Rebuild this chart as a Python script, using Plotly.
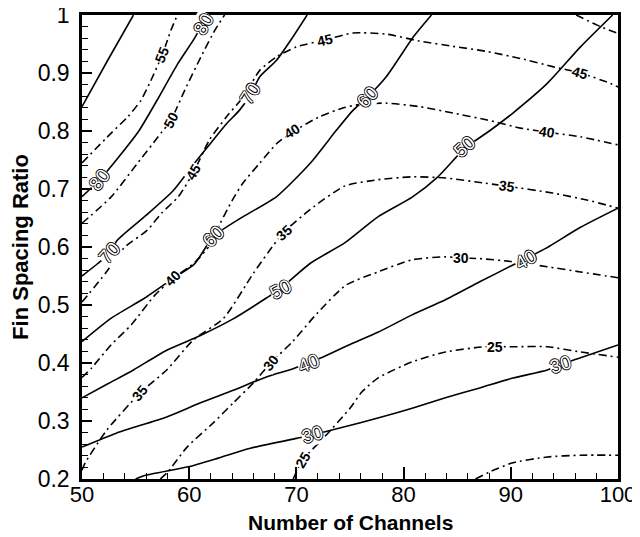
import plotly.graph_objects as go

# ---------------- data ----------------
# solid contour lines
S90_X = [50, 52.4, 54.8]
S90_Y = [0.842, 0.922, 1.0]
S80_X = [50, 51.65, 53.2, 55.3, 57.0, 58.9, 60.4, 61.3, 61.9]
S80_Y = [0.687, 0.716, 0.75, 0.8, 0.853, 0.915, 0.957, 0.986, 1.0]
S70_X = [50, 51.5, 52.6, 53.3, 56.0, 58.5, 60.3, 62.0, 63.5, 64.7, 65.7, 66.6, 68.15, 69.7, 71.0]
S70_Y = [0.55, 0.572, 0.59, 0.612, 0.655, 0.697, 0.74, 0.779, 0.813, 0.836, 0.862, 0.894, 0.922, 0.963, 1.0]
S60_X = [50, 52.7, 55.85, 58.5, 60.5, 62.25, 65.0, 68.16, 71.27, 73.76, 75.3, 76.6, 78.4, 80.9, 82.6]
S60_Y = [0.437, 0.477, 0.512, 0.546, 0.571, 0.618, 0.652, 0.687, 0.744, 0.802, 0.836, 0.858, 0.894, 0.962, 1.0]
S50_X = [50, 52.5, 54.8, 57.9, 61.0, 64.1, 67.2, 68.5, 71.3, 74.5, 77.6, 80.8, 83.2, 85.7, 88.0, 90.2, 93.4, 96.5, 99.5]
S50_Y = [0.34, 0.365, 0.388, 0.422, 0.447, 0.476, 0.512, 0.528, 0.572, 0.607, 0.652, 0.686, 0.721, 0.77, 0.8, 0.831, 0.882, 0.945, 1.0]
S40_X = [50, 53.2, 57.9, 61.0, 64.1, 67.2, 69.7, 71.1, 72.2, 75.0, 77.6, 80.8, 83.9, 87.1, 90.2, 91.5, 93.3, 96.5, 100]
S40_Y = [0.255, 0.279, 0.307, 0.331, 0.353, 0.376, 0.39, 0.4, 0.408, 0.432, 0.453, 0.483, 0.509, 0.54, 0.569, 0.581, 0.598, 0.634, 0.667]
S30_X = [55.0, 55.85, 59.9, 62.7, 65.7, 70.0, 71.5, 74.5, 77.6, 80.8, 83.9, 87.1, 90.2, 93.4, 94.6, 96.5, 100]
S30_Y = [0.2, 0.206, 0.221, 0.236, 0.253, 0.27, 0.276, 0.29, 0.305, 0.322, 0.34, 0.357, 0.374, 0.388, 0.397, 0.409, 0.431]

# dash-dot contour lines
D55_X = [50, 52.7, 54.3, 55.5, 56.3, 57.5, 58.3, 58.9]
D55_Y = [0.745, 0.796, 0.825, 0.853, 0.882, 0.932, 0.974, 1.0]
D50_X = [50, 52.7, 55.2, 57.1, 58.3, 59.6, 61.1, 62.4, 63.3]
D50_Y = [0.641, 0.686, 0.745, 0.79, 0.819, 0.871, 0.928, 0.974, 1.0]
D50B_X = [96.1, 98.0, 100]
D50B_Y = [1.0, 0.983, 0.968]
D45_X = [50, 52.2, 54.0, 56.1, 57.4, 59.0, 60.35, 61.9, 63.5, 65.05, 66.6, 68.16, 70.0, 72.67, 75.3, 78.4, 81.5, 84.6, 87.8, 90.9, 93.9, 96.5, 99.3, 100]
D45_Y = [0.505, 0.555, 0.6, 0.629, 0.658, 0.687, 0.727, 0.785, 0.825, 0.859, 0.905, 0.928, 0.945, 0.957, 0.969, 0.967, 0.955, 0.946, 0.937, 0.925, 0.911, 0.9, 0.882, 0.876]
D40_X = [50, 50.87, 52.7, 54.6, 56.8, 58.5, 60.5, 62.0, 62.9, 64.0, 65.0, 66.6, 68.2, 69.6, 72.2, 74.4, 76.0, 78.4, 81.5, 84.6, 87.8, 90.9, 93.4, 96.5, 100]
D40_Y = [0.375, 0.391, 0.431, 0.466, 0.517, 0.546, 0.573, 0.605, 0.641, 0.68, 0.71, 0.745, 0.779, 0.798, 0.825, 0.84, 0.846, 0.848, 0.842, 0.831, 0.819, 0.805, 0.798, 0.79, 0.776]
D35_X = [50, 50.3, 52.3, 55.4, 57.9, 60.4, 63.2, 66.0, 67.85, 68.8, 71.3, 74.5, 77.6, 80.8, 83.9, 87.6, 89.6, 93.9, 97.1, 100]
D35_Y = [0.215, 0.228, 0.284, 0.348, 0.388, 0.44, 0.477, 0.555, 0.603, 0.625, 0.665, 0.705, 0.716, 0.721, 0.719, 0.71, 0.705, 0.693, 0.681, 0.667]
D30_X = [57.3, 58.0, 59.8, 62.2, 64.1, 66.0, 67.6, 69.7, 71.9, 74.6, 77.6, 80.8, 83.9, 85.4, 87.1, 90.0, 93.4, 96.5, 100]
D30_Y = [0.2, 0.212, 0.255, 0.296, 0.331, 0.366, 0.4, 0.438, 0.485, 0.534, 0.557, 0.578, 0.583, 0.581, 0.58, 0.575, 0.566, 0.557, 0.547]
D25_X = [69.7, 70.6, 72.5, 75.0, 76.1, 77.6, 80.8, 83.9, 87.6, 90.2, 93.4, 96.5, 100]
D25_Y = [0.2, 0.233, 0.27, 0.322, 0.35, 0.374, 0.402, 0.419, 0.428, 0.428, 0.428, 0.419, 0.41]
D20_X = [86.7, 88.0, 90.2, 93.4, 96.5, 100]
D20_Y = [0.2, 0.212, 0.228, 0.238, 0.241, 0.241]

# contour labels on solid lines
SOLID_LABELS = ["80", "80", "70", "70", "60", "60", "50", "50", "40", "40", "30", "30"]
SOLID_LABEL_X = [51.65, 61.3, 52.6, 65.7, 62.25, 76.6, 68.5, 85.7, 71.1, 91.4, 71.5, 94.6]
SOLID_LABEL_Y = [0.716, 0.984, 0.59, 0.864, 0.618, 0.858, 0.527, 0.773, 0.4, 0.579, 0.276, 0.397]
SOLID_LABEL_ANGLE = [-52, -60, -48, -58, -45, -48, -28, -42, -22, -30, -17, -17]

# contour labels on dash-dot lines
DASH_LABELS = ["55", "50", "45", "45", "45", "40", "40", "40", "35", "35", "35", "30", "30", "25", "25"]
DASH_LABEL_X = [57.5, 58.3, 60.35, 72.7, 96.5, 58.5, 69.6, 93.4, 55.4, 68.8, 89.6, 67.6, 85.4, 70.6, 88.5]
DASH_LABEL_Y = [0.932, 0.819, 0.73, 0.957, 0.9, 0.546, 0.8, 0.798, 0.348, 0.625, 0.706, 0.4, 0.581, 0.233, 0.427]
DASH_LABEL_ANGLE = [-68, -62, -60, -14, 16, -45, -32, 9, -52, -42, 8, -52, 0, -60, 0]

X_TICKS = [50, 60, 70, 80, 90, 100]
Y_TICKS = [0.2, 0.3, 0.4, 0.5, 0.6, 0.7, 0.8, 0.9, 1.0]
Y_TICK_TEXT = ["0.2", "0.3", "0.4", "0.5", "0.6", "0.7", "0.8", "0.9", "1"]
X_TITLE = "Number of Channels"
Y_TITLE = "Fin Spacing Ratio"

# ---------------- figure ----------------
# (the page body adds an 8px margin, so the figure is 8px smaller than the window)
FONT = "Liberation Sans, Arial, Helvetica, sans-serif"
fig = go.Figure()

solid = [(S90_X, S90_Y), (S80_X, S80_Y), (S70_X, S70_Y), (S60_X, S60_Y),
         (S50_X, S50_Y), (S40_X, S40_Y), (S30_X, S30_Y)]
dashed = [(D55_X, D55_Y), (D50_X, D50_Y), (D50B_X, D50B_Y), (D45_X, D45_Y),
          (D40_X, D40_Y), (D35_X, D35_Y), (D30_X, D30_Y), (D25_X, D25_Y), (D20_X, D20_Y)]

for xs, ys in solid:
    fig.add_trace(go.Scatter(x=xs, y=ys, mode="lines", hoverinfo="skip", showlegend=False,
                             line=dict(color="black", width=1.6, shape="spline", smoothing=0.6)))
for xs, ys in dashed:
    fig.add_trace(go.Scatter(x=xs, y=ys, mode="lines", hoverinfo="skip", showlegend=False,
                             line=dict(color="black", width=1.6, dash="8px,4px,2px,4px",
                                       shape="spline", smoothing=0.6)))

annotations = []
for t, x, y, a in zip(SOLID_LABELS, SOLID_LABEL_X, SOLID_LABEL_Y, SOLID_LABEL_ANGLE):
    annotations.append(dict(x=x, y=y, xref="x", yref="y", text=t, showarrow=False,
                            textangle=a, bgcolor="white", borderpad=0,
                            font=dict(family=FONT, size=19, color="white",
                                      shadow="1px 0 0 #000, -1px 0 0 #000, 0 1px 0 #000, 0 -1px 0 #000")))
for t, x, y, a in zip(DASH_LABELS, DASH_LABEL_X, DASH_LABEL_Y, DASH_LABEL_ANGLE):
    annotations.append(dict(x=x, y=y, xref="x", yref="y", text="<b>" + t + "</b>", showarrow=False,
                            textangle=a, bgcolor="white", borderpad=0,
                            font=dict(family=FONT, size=14, color="black")))
# x-axis title placed as a paper annotation so it stays inside the page
annotations.append(dict(x=0.5, y=0, xref="paper", yref="paper", xanchor="center", yanchor="bottom",
                        yshift=-56, text="<b>" + X_TITLE + "</b>", showarrow=False, borderpad=0,
                        font=dict(family=FONT, size=21, color="black")))

fig.update_layout(
    width=632, height=529,
    margin=dict(l=74, r=22, t=7, b=58, autoexpand=False),
    paper_bgcolor="white", plot_bgcolor="white",
    annotations=annotations,
    font=dict(family=FONT, color="black"),
)
fig.update_xaxes(
    range=[50, 100], tickvals=X_TICKS, ticks="inside", ticklen=12, tickwidth=1.5,
    tickcolor="black", showgrid=False, zeroline=False, automargin=False,
    showline=True, linecolor="black", linewidth=2.5, mirror=True,
    tickfont=dict(family=FONT, size=22, color="black"), ticklabelstandoff=-6,
    ticklabeloverflow="allow",
    minor=dict(dtick=2, ticks="inside", ticklen=6, tickcolor="black", tickwidth=1.2, showgrid=False),
)
fig.update_yaxes(
    range=[0.2, 1.0], tickvals=Y_TICKS, ticktext=Y_TICK_TEXT, ticks="inside", ticklen=10, tickwidth=1.5,
    tickcolor="black", showgrid=False, zeroline=False, automargin=False,
    showline=True, linecolor="black", linewidth=2.5, mirror=True,
    tickfont=dict(family=FONT, size=23, color="black"), ticklabelstandoff=5,
    ticklabeloverflow="allow",
    minor=dict(dtick=0.02, ticks="inside", ticklen=6, tickcolor="black", tickwidth=1.2, showgrid=False),
    title=dict(text="<b>" + Y_TITLE + "</b>", font=dict(family=FONT, size=22, color="black"), standoff=4),
)

fig.write_html("out.html")
